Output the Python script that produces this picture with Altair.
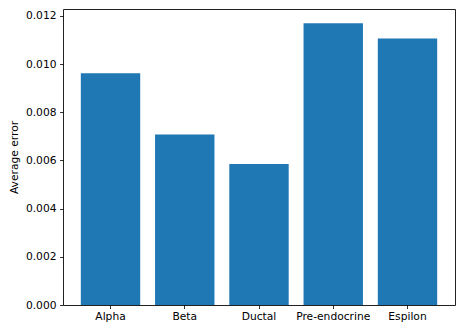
import altair as alt
import pandas as pd

categories = ["Alpha", "Beta", "Ductal", "Pre-endocrine", "Espilon"]
values = [0.00962, 0.00708, 0.00585, 0.01170, 0.01107]
y_ticks = [0.0, 0.002, 0.004, 0.006, 0.008, 0.010, 0.012]

df = pd.DataFrame({"cell": categories, "err": values})

font = "DejaVu Sans"
fs = 10.7

chart = alt.Chart(df).mark_bar(color="#1f77b4").encode(
    x=alt.X("cell:N", sort=categories,
            scale=alt.Scale(paddingInner=0.2, paddingOuter=0.24),
            axis=alt.Axis(title=None, labelAngle=0, labelFont=font, labelFontSize=fs,
                          labelColor="#000000", tickColor="#000000", tickSize=3.5,
                          tickWidth=0.8, domain=False, labelPadding=3, grid=False)),
    y=alt.Y("err:Q", scale=alt.Scale(domain=[0, 0.01229], nice=False, zero=True),
            axis=alt.Axis(title="Average error", values=y_ticks, format=".3f",
                          labelFont=font, labelFontSize=fs, labelColor="#000000",
                          titleFont=font, titleFontSize=fs, titleFontWeight="normal",
                          titleColor="#000000", titlePadding=6,
                          tickColor="#000000", tickSize=3.5, tickWidth=0.8,
                          domain=False, labelPadding=3.5, grid=False)),
).properties(
    width=392, height=296,
    background="white",
    autosize=alt.AutoSizeParams(type="none"),
    padding={"left": 63, "top": 9, "right": 1, "bottom": 22},
).configure_view(
    stroke="#222222", strokeWidth=1
)

chart.save("out.html", embed_options={"renderer": "svg", "actions": False})
